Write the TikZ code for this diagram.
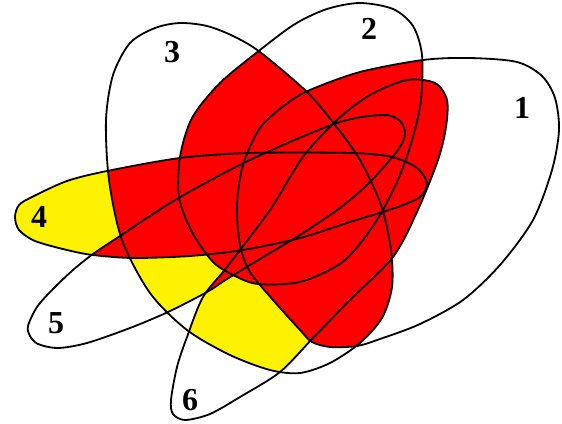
\documentclass[tikz,border=0pt]{standalone}
\usepackage{fontspec}
\setmainfont{Liberation Serif}
\begin{document}
\begin{tikzpicture}[x=1pt,y=-1pt,
  curve/.style={draw=black, line width=1.8pt},
  lab/.style={font=\fontsize{32}{32}\selectfont\bfseries, inner sep=0pt}]
\useasboundingbox (0,0) rectangle (562,423);
\def\cA{plot[smooth cycle] coordinates {(470,58) (517,62) (542,76) (555,98) (559,130) (552,170) (533,220) (500,265) (463,300) (420,324) (380,339) (357,346) (330,347) (312,342) (300,330) (273,300) (250,272) (240,245) (237,205) (243,165) (260,128) (285,105) (310,90) (360,72) (423,60)}}
\def\cB{plot[smooth cycle] coordinates {(360,3) (393,9) (413,26) (422,55) (421,100) (413,137) (400,175) (383,210) (363,240) (340,264) (300,282) (258,284) (235,276) (213,262) (192,232) (179,197) (180,157) (192,118) (220,83) (260,50) (295,24) (327,9)}}
\def\cC{plot[smooth cycle] coordinates {(180,23) (207,26) (233,36) (260,52) (307,92) (335,125) (360,160) (381,205) (391,250) (392,287) (382,318) (360,343) (330,363) (300,373) (270,370) (230,355) (187,330) (150,293) (122,240) (109,180) (106,120) (113,75) (130,43) (155,28)}}
\def\cD{plot[smooth cycle] coordinates {(15,217) (19,205) (32,197) (67,181) (107,171) (180,158) (250,153) (350,153) (392,157) (417,168) (427,183) (420,197) (395,208) (350,222) (300,238) (243,250) (190,256) (133,258) (93,255) (67,250) (35,241) (19,230)}}
\def\cE{plot[smooth cycle] coordinates {(28,326) (37,307) (53,289) (73,270) (93,254) (120,236) (177,199) (250,160) (337,123) (383,115) (400,121) (405,134) (398,150) (370,182) (340,208) (300,235) (265,256) (227,279) (207,292) (168,312) (130,328) (87,343) (58,348) (38,344) (30,336)}}
\def\cF{plot[smooth cycle] coordinates {(171,400) (177,367) (187,337) (203,297) (227,267) (270,210) (303,157) (337,120) (370,95) (407,80) (435,83) (447,100) (446,127) (438,160) (417,212) (393,257) (350,300) (313,338) (280,372) (240,397) (210,414) (185,420) (173,414)}}
% yellow layer
\fill[yellow] \cD;
\begin{scope}\clip \cC; \fill[yellow] \cE; \fill[yellow] \cF; \end{scope}
% red layer: pairwise intersections except 3-5 and 3-6
\begin{scope}\clip \cA; \fill[red] \cB; \fill[red] \cC; \fill[red] \cD; \fill[red] \cE; \fill[red] \cF; \end{scope}
\begin{scope}\clip \cB; \fill[red] \cC; \fill[red] \cD; \fill[red] \cE; \fill[red] \cF; \end{scope}
\begin{scope}\clip \cC; \fill[red] \cD; \end{scope}
\begin{scope}\clip \cD; \fill[red] \cE; \fill[red] \cF; \end{scope}
\begin{scope}\clip \cE; \fill[red] \cF; \end{scope}
% outlines
\path[curve] \cA;
\path[curve] \cB;
\path[curve] \cC;
\path[curve] \cD;
\path[curve] \cE;
\path[curve] \cF;
% labels
\node[lab] (l1) at (522,108) {1};
\node[lab] (l2) at (369,29) {2};
\node[lab] (l3) at (172,52) {3};
\node[lab] (l4) at (39,217) {4};
\node[lab] (l5) at (56,323) {5};
\node[lab] (l6) at (190,400) {6};
\end{tikzpicture}
\end{document}
